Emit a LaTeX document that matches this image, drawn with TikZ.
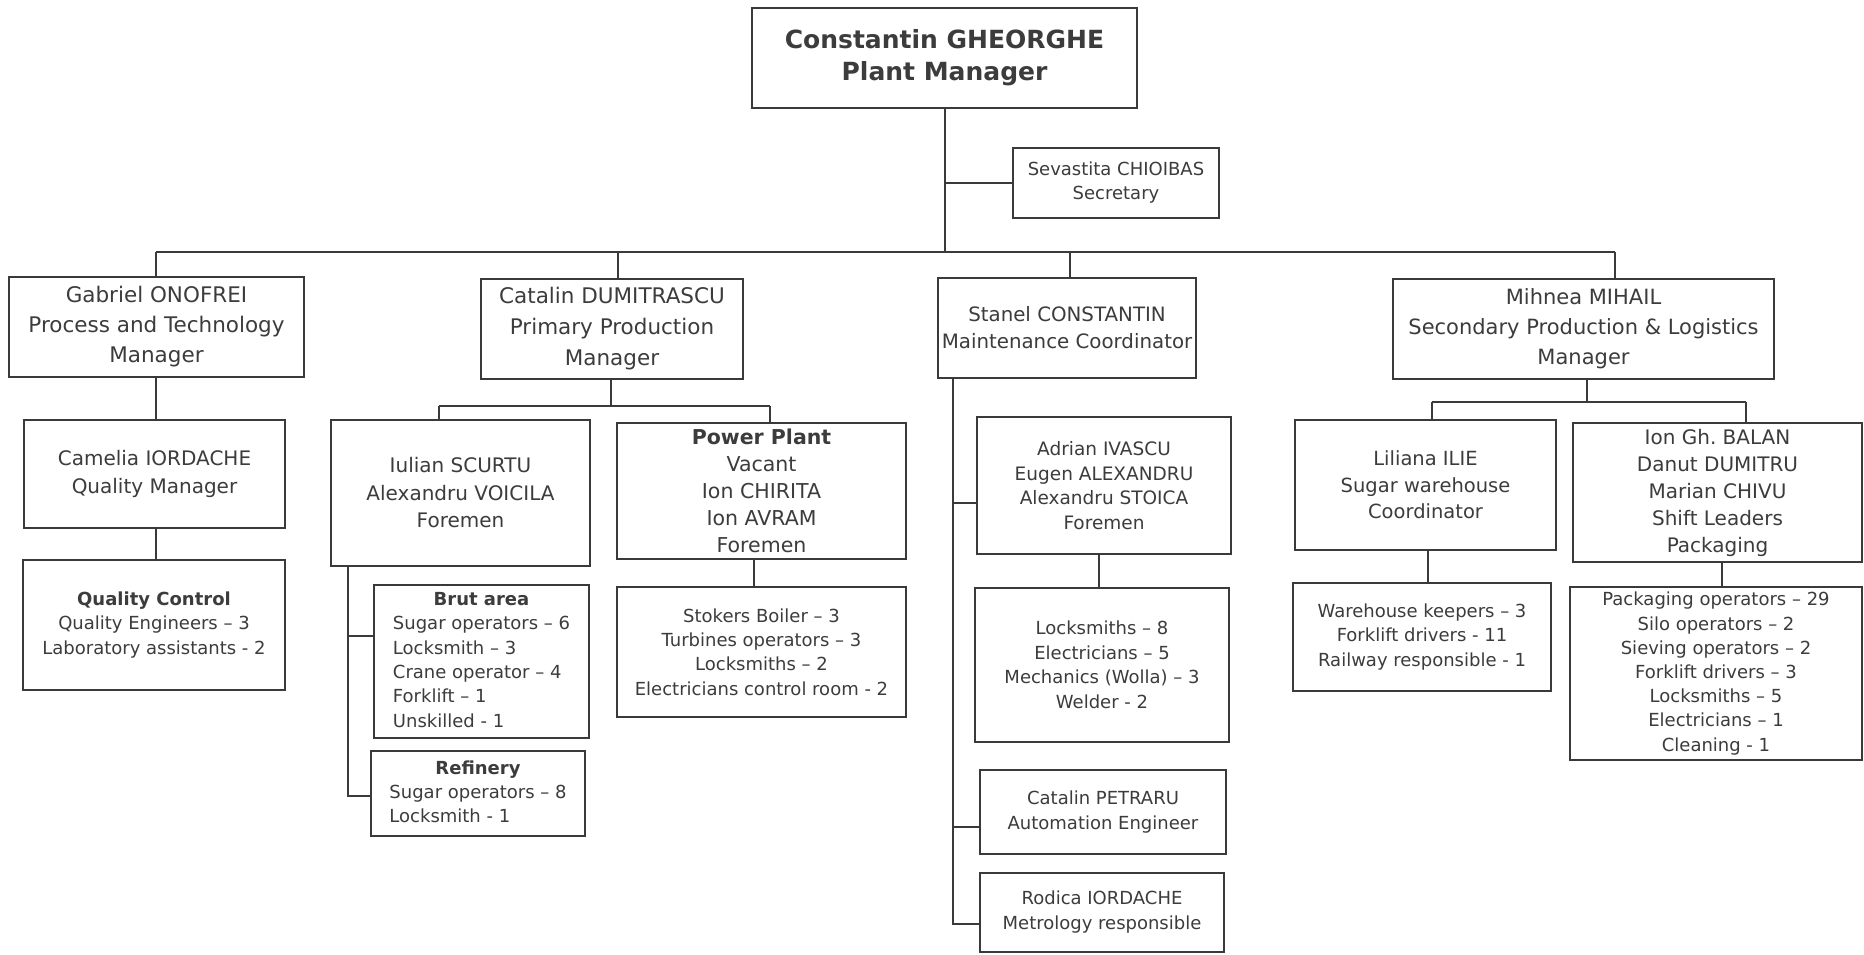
\documentclass[tikz,border=0pt]{standalone}
\usepackage{fontspec}
\setmainfont{DejaVu Sans}
\usetikzlibrary{calc}
\definecolor{linec}{HTML}{3A3A3A}
\definecolor{textc}{HTML}{3C3C3C}
\newcommand{\fsz}[2]{\fontsize{#1}{#2}\selectfont}
\frenchspacing
\tikzset{
  box/.style={draw=linec, line width=2.2pt, inner sep=0pt, align=center,
              text=textc, anchor=center},
  conn/.style={draw=linec, line width=2pt},
}
\begin{document}
\begin{tikzpicture}[x=1pt,y=-1pt]
\fill[white] (0,0) rectangle (1864,955);
\useasboundingbox (0,0) rectangle (1864,955);

% --- plant manager and secretary
\node[box, minimum width=385pt, minimum height=100pt, font=\fsz{25}{32}\bfseries] (top) at (944.5,58)
  {Constantin GHEORGHE\\Plant Manager};
\node[box, minimum width=206pt, minimum height=70pt, font=\fsz{18}{24}] (sec) at (1116,183)
  {Sevastita CHIOIBAS\\Secretary};

% --- department managers
\node[box, minimum width=295pt, minimum height=100pt, font=\fsz{21.5}{30}] (gab) at (156.5,327)
  {Gabriel ONOFREI\\Process and Technology\\Manager};
\node[box, minimum width=262pt, minimum height=100pt, font=\fsz{21.5}{31}] (cat) at (612,329)
  {Catalin DUMITRASCU\\Primary Production\\Manager};
\node[box, minimum width=258pt, minimum height=100pt, font=\fsz{19.8}{27}] (sta) at (1067,328)
  {Stanel CONSTANTIN\\Maintenance Coordinator};
\node[box, minimum width=381pt, minimum height=100pt, font=\fsz{21}{30}] (mih) at (1583.5,329)
  {Mihnea MIHAIL\\Secondary Production \& Logistics\\Manager};

% --- process and technology
\node[box, minimum width=261pt, minimum height=108pt, font=\fsz{20}{27.5}] (cam) at (154.5,474)
  {Camelia IORDACHE\\Quality Manager};
\node[box, minimum width=262pt, minimum height=130pt, font=\fsz{18}{24.5}] (qc) at (154,625)
  {\textbf{Quality Control}\\Quality Engineers -- 3\\Laboratory assistants - 2};

% --- primary production
\node[box, minimum width=259pt, minimum height=146pt, font=\fsz{20}{27.5}] (iul) at (460.5,493)
  {Iulian SCURTU\\Alexandru VOICILA\\Foremen};
\node[box, minimum width=289pt, minimum height=136pt, font=\fsz{20.5}{27}] (pow) at (761.5,491)
  {\textbf{Power Plant}\\Vacant\\Ion CHIRITA\\Ion AVRAM\\Foremen};
\node[box, minimum width=289pt, minimum height=130pt, font=\fsz{18}{24.3}] (sto) at (761.5,652)
  {Stokers Boiler -- 3\\Turbines operators -- 3\\Locksmiths -- 2\\Electricians control room - 2};
\node[box, minimum width=215pt, minimum height=153pt, font=\fsz{18}{24.3}] (brut) at (481.5,661.5)
  {\begin{tabular}{@{}l@{}}\multicolumn{1}{@{}c@{}}{\textbf{Brut area}}\\
   Sugar operators -- 6\\Locksmith -- 3\\Crane operator -- 4\\Forklift -- 1\\Unskilled - 1\end{tabular}};
\node[box, minimum width=214pt, minimum height=85pt, font=\fsz{18}{24.3}] (ref) at (478,793.5)
  {\begin{tabular}{@{}l@{}}\multicolumn{1}{@{}c@{}}{\textbf{Refinery}}\\
   Sugar operators -- 8\\Locksmith - 1\end{tabular}};

% --- maintenance
\node[box, minimum width=254pt, minimum height=137pt, font=\fsz{18.5}{24.5}] (adr) at (1104,485.5)
  {Adrian IVASCU\\Eugen ALEXANDRU\\Alexandru STOICA\\Foremen};
\node[box, minimum width=254pt, minimum height=154pt, font=\fsz{18}{24.5}] (mnt) at (1102,665)
  {Locksmiths -- 8\\Electricians -- 5\\Mechanics (Wolla) -- 3\\Welder - 2};
\node[box, minimum width=246pt, minimum height=84pt, font=\fsz{18}{25}] (pet) at (1103,812)
  {Catalin PETRARU\\Automation Engineer};
\node[box, minimum width=244pt, minimum height=79pt, font=\fsz{18}{25}] (rod) at (1102,912.5)
  {Rodica IORDACHE\\Metrology responsible};

% --- secondary production and logistics
\node[box, minimum width=261pt, minimum height=130pt, font=\fsz{19.5}{26.7}] (lil) at (1425.5,485)
  {Liliana ILIE\\Sugar warehouse\\Coordinator};
\node[box, minimum width=289pt, minimum height=139pt, font=\fsz{20}{27}] (ion) at (1717.5,492.5)
  {Ion Gh. BALAN\\Danut DUMITRU\\Marian CHIVU\\Shift Leaders\\Packaging};
\node[box, minimum width=258pt, minimum height=108pt, font=\fsz{18}{24.2}] (wh) at (1422,637)
  {Warehouse keepers -- 3\\Forklift drivers - 11\\Railway responsible - 1};
\node[box, minimum width=292pt, minimum height=173pt, font=\fsz{18}{24.2}] (pkg) at (1716,673.5)
  {Packaging operators -- 29\\Silo operators -- 2\\Sieving operators -- 2\\Forklift drivers -- 3\\Locksmiths -- 5\\Electricians -- 1\\Cleaning - 1};

% --- top level connectors
\coordinate (busL) at (156,252);
\coordinate (busR) at (1615,252);
\coordinate (catdrop) at (618,252);
\coordinate (stadrop) at (1070,252);
\draw[conn] (top.south) -- (top.south |- busL);
\draw[conn] (top.south |- sec.west) -- (sec.west);
\draw[conn] (busL) -- (busR);
\draw[conn] (busL) -- (busL |- gab.north);
\draw[conn] (catdrop) -- (catdrop |- cat.north);
\draw[conn] (stadrop) -- (stadrop |- sta.north);
\draw[conn] (busR) -- (busR |- mih.north);

% --- process and technology branch
\draw[conn] (busL |- gab.south) -- (busL |- cam.north);
\draw[conn] (busL |- cam.south) -- (busL |- qc.north);

% --- primary production branch
\coordinate (catj) at (611,406);
\coordinate (iuld) at (439,406);
\coordinate (powd) at (770,406);
\coordinate (powx) at (754,0);
\draw[conn] (cat.south -| catj) -- (catj);
\draw[conn] (iuld) -- (powd);
\draw[conn] (iuld) -- (iuld |- iul.north);
\draw[conn] (powd) -- (powd |- pow.north);
\draw[conn] (pow.south -| powx) -- (sto.north -| powx);
\coordinate (b1) at (348,636);
\coordinate (b2) at (348,796);
\draw[conn] (iul.south -| b1) -- (b2) -- (b2 -| ref.west);
\draw[conn] (b1) -- (b1 -| brut.west);

% --- maintenance branch
\coordinate (s1) at (953,503);
\coordinate (s2) at (953,827);
\coordinate (s3) at (953,924);
\coordinate (mx) at (1099,0);
\draw[conn] (sta.south -| s1) -- (s3) -- (s3 -| rod.west);
\draw[conn] (s1) -- (s1 -| adr.west);
\draw[conn] (s2) -- (s2 -| pet.west);
\draw[conn] (adr.south -| mx) -- (mnt.north -| mx);

% --- secondary production branch
\coordinate (mj) at (1587,402);
\coordinate (lild) at (1432,402);
\coordinate (iond) at (1746,402);
\coordinate (lx) at (1428,0);
\coordinate (ix) at (1722,0);
\draw[conn] (mih.south -| mj) -- (mj);
\draw[conn] (lild) -- (iond);
\draw[conn] (lild) -- (lild |- lil.north);
\draw[conn] (iond) -- (iond |- ion.north);
\draw[conn] (lil.south -| lx) -- (wh.north -| lx);
\draw[conn] (ion.south -| ix) -- (pkg.north -| ix);
\end{tikzpicture}
\end{document}
